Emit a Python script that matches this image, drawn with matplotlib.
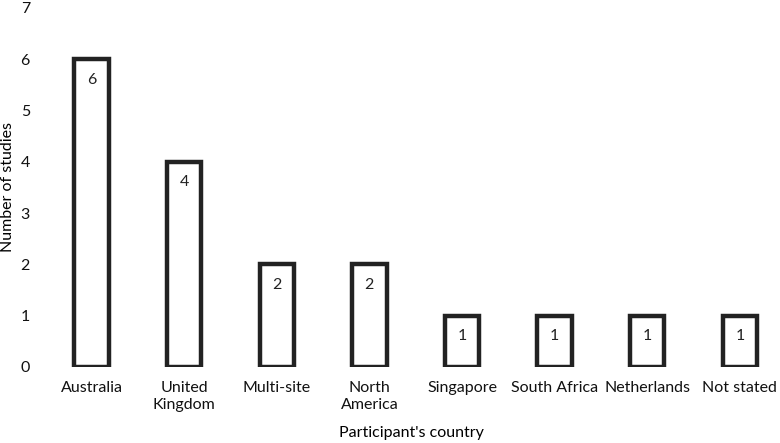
import matplotlib
matplotlib.use('Agg')
import matplotlib.pyplot as plt

countries = ['Australia', 'United\nKingdom', 'Multi-site', 'North\nAmerica',
             'Singapore', 'South Africa', 'Netherlands', 'Not stated']
studies = [6, 4, 2, 2, 1, 1, 1, 1]

plt.rcParams['font.family'] = ['Lato', 'DejaVu Sans']
fs = 11.5

fig = plt.figure(figsize=(7.8, 4.43), dpi=100)
ax = fig.add_axes([0.058, 0.1716, 0.938, 0.8104])

x = list(range(len(countries)))
ax.bar(x, studies, width=0.37, color='white', edgecolor='#222222', linewidth=3.2)

for xi, v in zip(x, studies):
    ax.text(xi, v - 0.4, str(v), ha='center', va='center', fontsize=fs, color='#222222')

ax.set_xlim(-0.5, 7.4)
ax.set_ylim(0, 7)
ax.set_yticks(range(0, 8))
ax.set_xticks(x)
ax.set_xticklabels(countries, fontsize=fs, linespacing=1.25)
ax.tick_params(axis='both', length=0, labelsize=fs, colors='#111111')
ax.tick_params(axis='x', pad=10)
ax.tick_params(axis='y', pad=11)
for s in ax.spines.values():
    s.set_visible(False)

ax.set_ylabel('Number of studies', fontsize=fs)
ax.yaxis.set_label_coords(-0.042, 0.5)
ax.set_xlabel("Participant's country", fontsize=fs)
ax.xaxis.set_label_coords(0.5, -0.165)

fig.savefig('out.png', dpi=100)
